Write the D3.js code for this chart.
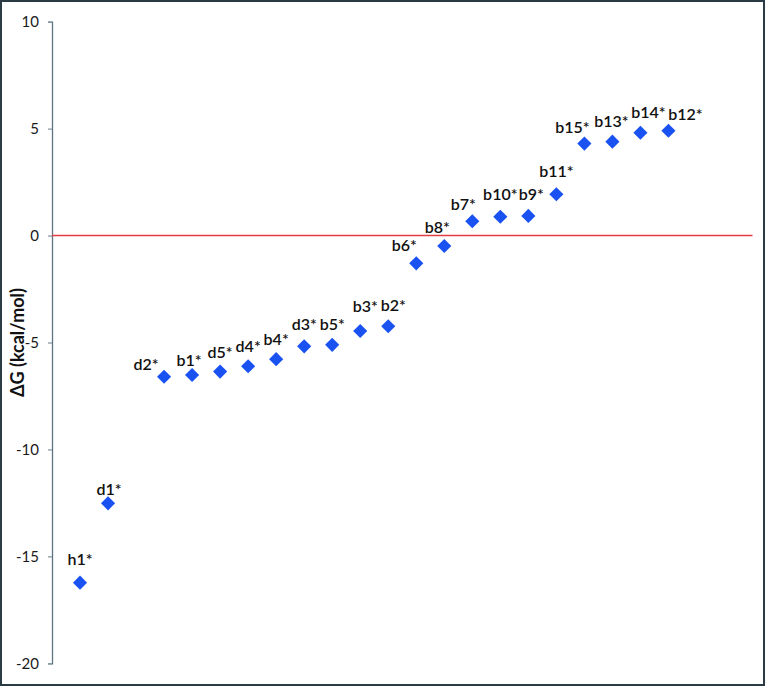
<!DOCTYPE html>
<html>
<head>
<meta charset="utf-8">
<script src="https://cdn.jsdelivr.net/npm/d3@7"></script>
<style>
  html, body { margin: 0; padding: 0; background: #fff; }
  svg { display: block; }
</style>
</head>
<body>
<svg id="chart" width="767" height="687"></svg>
<script>
// ---- data ----
const labels  = ["h1*","d1*","d2*","b1*","d5*","d4*","b4*","d3*","b5*","b3*","b2*","b6*","b8*","b7*","b10*","b9*","b11*","b15*","b13*","b14*","b12*"];
const xIndex  = [1, 2, 4, 5, 6, 7, 8, 9, 10, 11, 12, 13, 14, 15, 16, 17, 18, 19, 20, 21, 22];
const dGvalues = [-16.23, -12.52, -6.60, -6.52, -6.36, -6.11, -5.78, -5.18, -5.11, -4.46, -4.24, -1.30, -0.49, 0.67, 0.88, 0.92, 1.93, 4.30, 4.39, 4.81, 4.90];
const yTicks  = [-20, -15, -10, -5, 0, 5, 10];
const yTitle  = "ΔG (kcal/mol)";

// ---- layout (label placement offsets, px) ----
const labelDx = [0, 1, -18, -3, 0, 0, 0, 0, 0, 5, 5, -12, -7, -9, 0, 3, 0, -12, -1, 8, 17];
const labelDy = [-18, -8, -7, -9, -14, -14, -14, -16, -15, -19, -15, -12, -13, -11, -17, -16, -17, -11, -15, -15, -11];

const svg = d3.select("#chart");
const font = "Lato, 'Open Sans', sans-serif";

// frame
svg.append("rect")
  .attr("x", 1).attr("y", 1).attr("width", 763).attr("height", 684)
  .attr("fill", "#fff").attr("stroke", "#2a3b45").attr("stroke-width", 2);

const x = d3.scaleLinear().domain([0, 25]).range([52, 752.5]);
const y = d3.scaleLinear().domain([-20, 10]).range([663.3, 21.7]);

// y axis
const yAxis = d3.axisLeft(y).tickValues(yTicks).tickSize(4).tickPadding(9).tickFormat(d3.format("d"));
const gy = svg.append("g").attr("transform", `translate(${x(0)},0)`).call(yAxis);
gy.select(".domain").attr("stroke", "#5f7480").attr("stroke-width", 1.3);
gy.selectAll(".tick line").attr("stroke", "#8a9aa3").attr("stroke-width", 1.3);
gy.selectAll(".tick text")
  .attr("font-family", font).attr("font-size", 15).attr("fill", "#1a1a1a")
  .text(d => d < 0 ? "-" + Math.abs(d) : d);

// zero line
svg.append("line")
  .attr("x1", x(0)).attr("x2", x(25))
  .attr("y1", y(0)).attr("y2", y(0))
  .attr("stroke", "#e23c44").attr("stroke-width", 1.4);

// y title
svg.append("text")
  .attr("transform", `translate(24,${(y(-20)+y(10))/2}) rotate(-90)`)
  .attr("text-anchor", "middle")
  .attr("font-family", font).attr("font-weight", "bold").attr("font-size", 18)
  .attr("fill", "#111")
  .text(yTitle);

// diamonds
const sym = d3.symbol().type(d3.symbolSquare).size(100);
svg.append("g").selectAll("path")
  .data(dGvalues)
  .join("path")
  .attr("d", sym)
  .attr("transform", (d, i) => `translate(${x(xIndex[i])},${y(d)}) rotate(45)`)
  .attr("fill", "#1a52f2");

// labels
svg.append("g").selectAll("text")
  .data(dGvalues)
  .join("text")
  .attr("x", (d, i) => x(xIndex[i]) + labelDx[i])
  .attr("y", (d, i) => y(d) + labelDy[i])
  .attr("text-anchor", "middle")
  .attr("font-family", font).attr("font-size", 16).attr("font-weight", 600)
  .attr("fill", "#111")
  .text((d, i) => labels[i]);
</script>
</body>
</html>
